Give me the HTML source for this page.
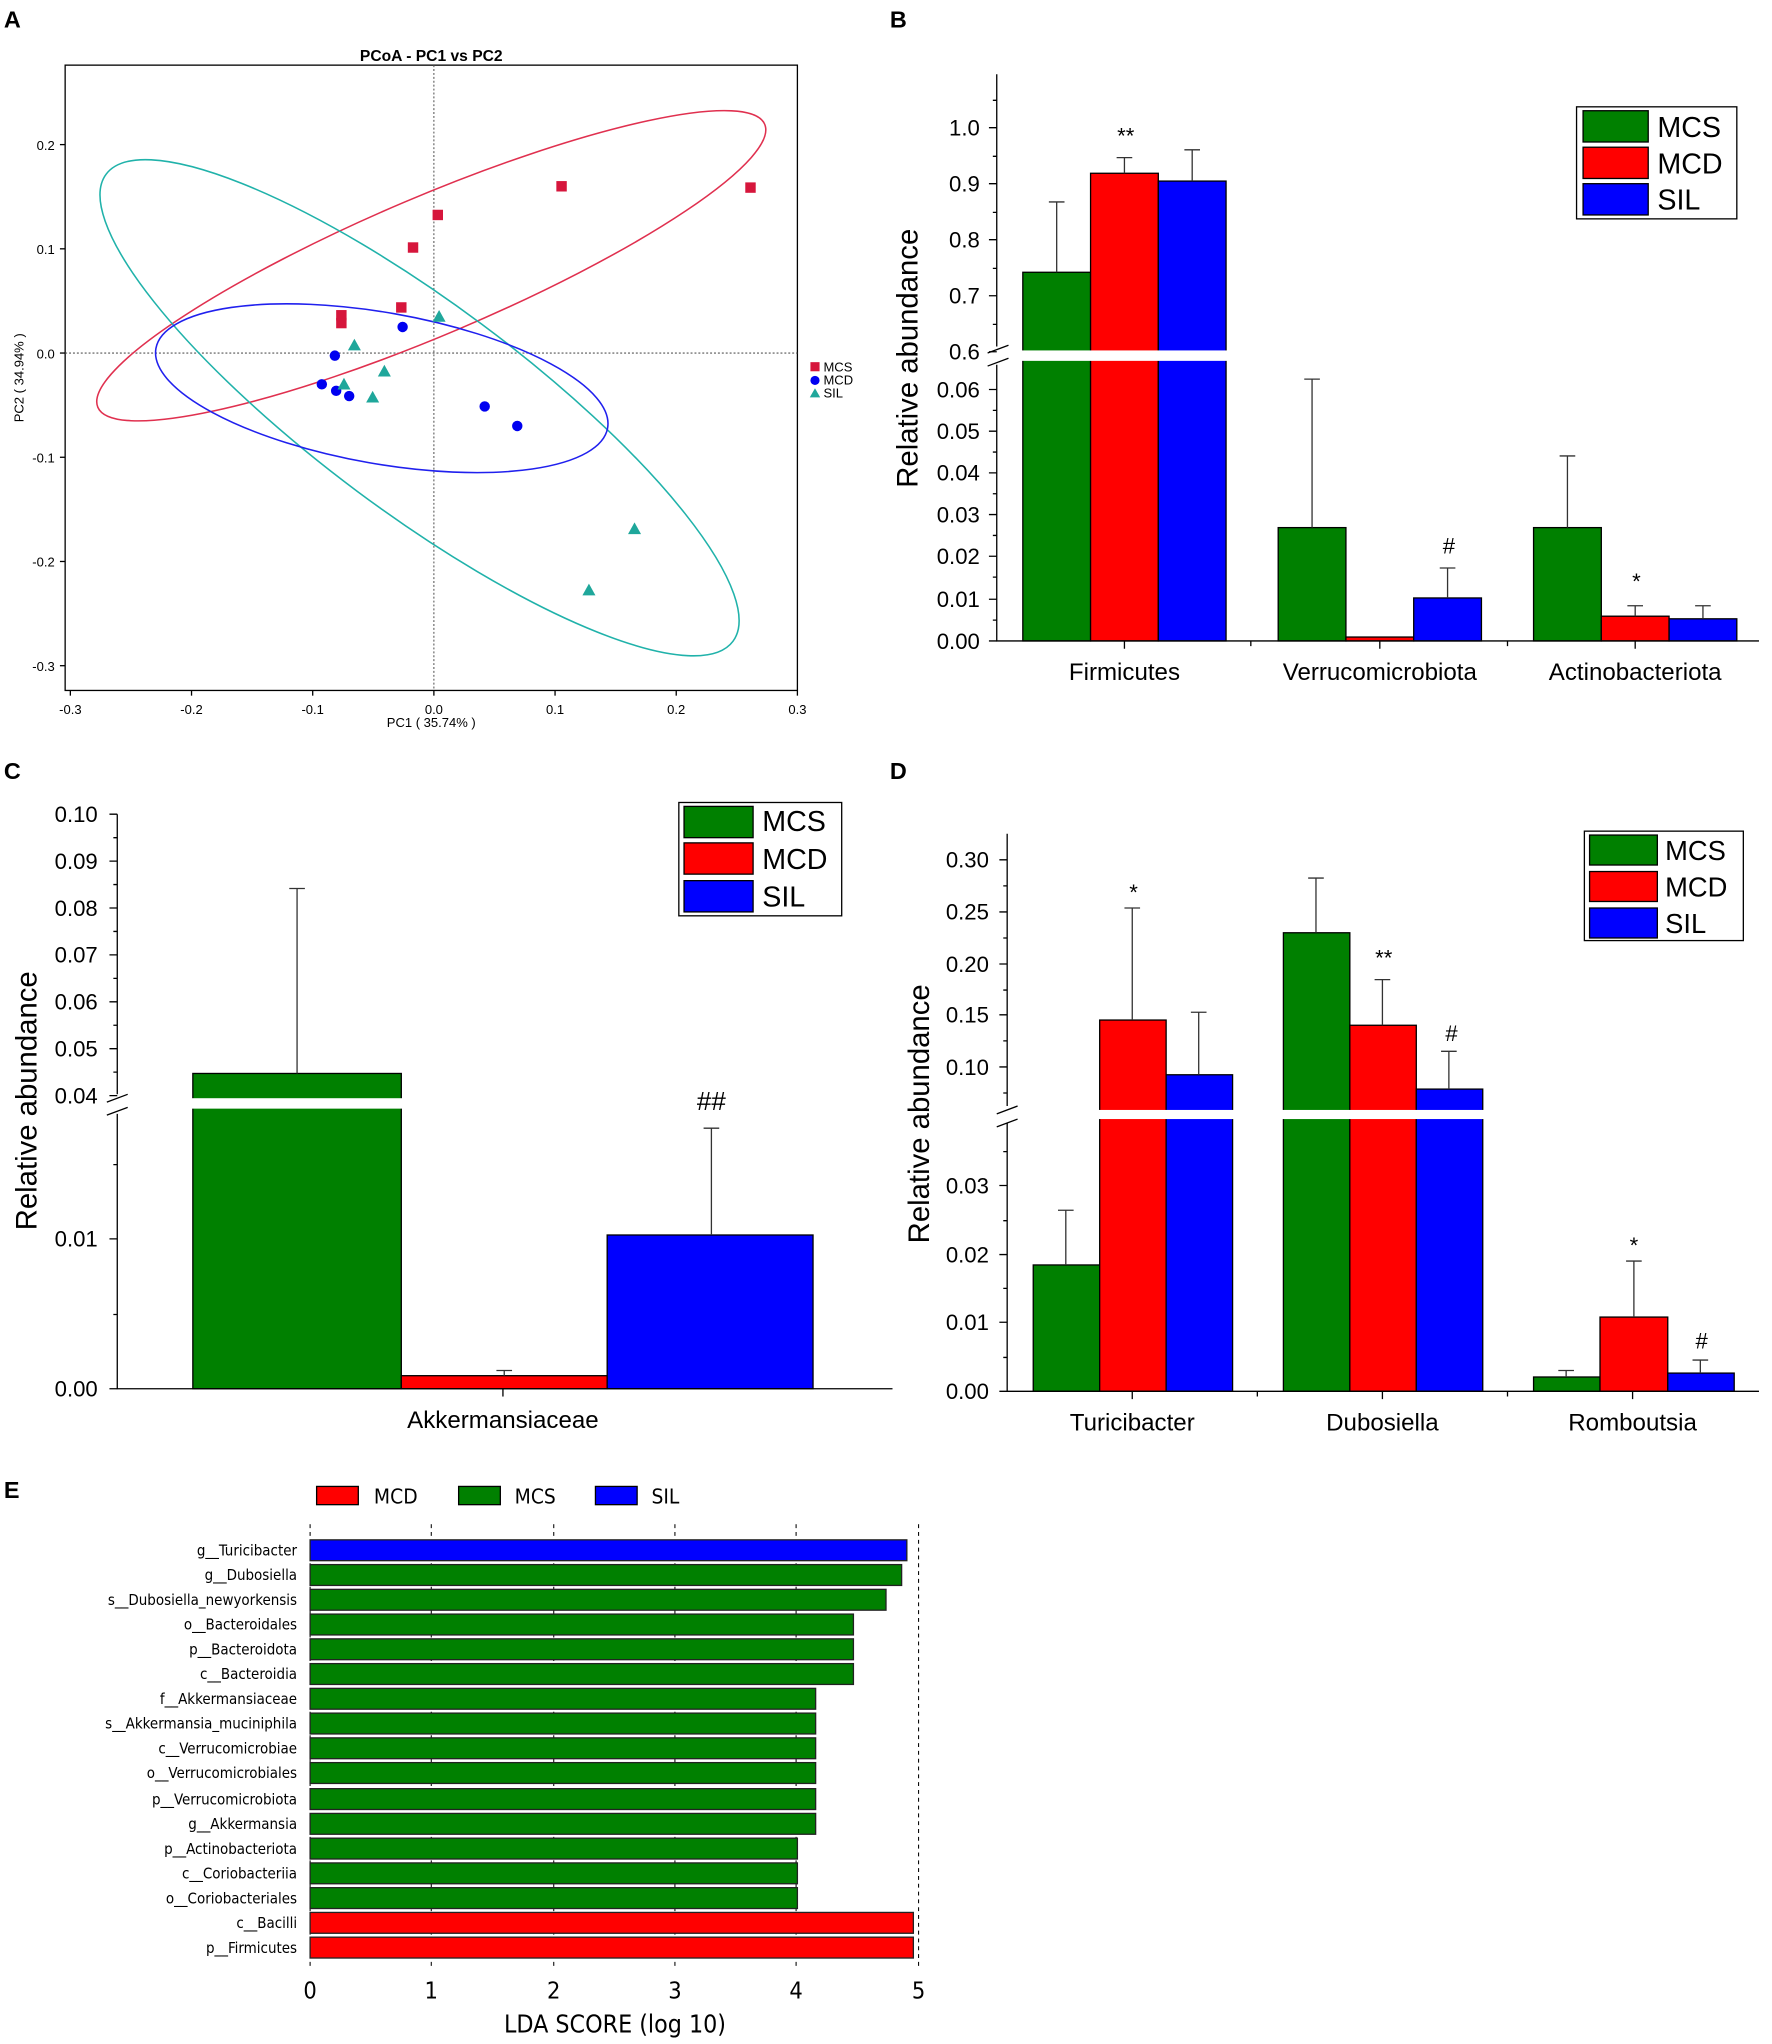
<!DOCTYPE html>
<html><head><meta charset="utf-8"><style>
html,body{margin:0;padding:0;background:#fff}
svg{display:block}
text{font-family:"Liberation Sans",Arial,sans-serif;fill:#000}
.c{font-family:"DejaVu Sans Condensed","DejaVu Sans",sans-serif}
</style></head><body>
<svg width="1772" height="2044" viewBox="0 0 1360 1569" preserveAspectRatio="none" xmlns="http://www.w3.org/2000/svg">
<rect width="1360" height="1569" fill="#fff"/>
<g font-weight="bold" font-size="18">
<text x="3" y="21">A</text><text x="683" y="21">B</text><text x="3" y="598">C</text><text x="683" y="598">D</text><text x="3" y="1150">E</text></g>

<!-- Panel A -->
<g>
<text x="331" y="47" font-size="12" font-weight="bold" text-anchor="middle">PCoA - PC1 vs PC2</text>
<rect x="50" y="50" width="562" height="480" fill="none" stroke="#000" stroke-width="1"/>
<line x1="333" y1="50" x2="333" y2="530" stroke="#555" stroke-dasharray="1.5,1.5" stroke-width="0.8"/>
<line x1="50" y1="271" x2="612" y2="271" stroke="#555" stroke-dasharray="1.5,1.5" stroke-width="0.8"/>
<g font-size="10" text-anchor="middle">
<text x="54" y="548">-0.3</text><text x="147" y="548">-0.2</text><text x="240" y="548">-0.1</text><text x="333" y="548">0.0</text><text x="426" y="548">0.1</text><text x="519" y="548">0.2</text><text x="612" y="548">0.3</text>
</g>
<g stroke="#000"><line x1="54" y1="530" x2="54" y2="534"/><line x1="147" y1="530" x2="147" y2="534"/><line x1="240" y1="530" x2="240" y2="534"/><line x1="333" y1="530" x2="333" y2="534"/><line x1="426" y1="530" x2="426" y2="534"/><line x1="519" y1="530" x2="519" y2="534"/><line x1="612" y1="530" x2="612" y2="534"/>
<line x1="46" y1="111" x2="50" y2="111"/><line x1="46" y1="191" x2="50" y2="191"/><line x1="46" y1="271" x2="50" y2="271"/><line x1="46" y1="351" x2="50" y2="351"/><line x1="46" y1="431" x2="50" y2="431"/><line x1="46" y1="511" x2="50" y2="511"/></g>
<g font-size="10" text-anchor="end">
<text x="42" y="115">0.2</text><text x="42" y="195">0.1</text><text x="42" y="275">0.0</text><text x="42" y="355">-0.1</text><text x="42" y="435">-0.2</text><text x="42" y="515">-0.3</text></g>
<text x="331" y="558" font-size="10" text-anchor="middle">PC1 ( 35.74% )</text>
<text transform="translate(18,290) rotate(-90)" font-size="10" text-anchor="middle">PC2 ( 34.94% )</text>
<ellipse cx="331" cy="204" rx="278" ry="53" transform="rotate(-23 331 204)" fill="none" stroke="#e0304f" stroke-width="1.2"/>
<ellipse cx="322" cy="313" rx="300" ry="80" transform="rotate(36.7 322 313)" fill="none" stroke="#20b2aa" stroke-width="1.2"/>
<ellipse cx="293" cy="298" rx="176" ry="58" transform="rotate(10 293 298)" fill="none" stroke="#2020ee" stroke-width="1.2"/>
<g fill="#d6163c">
<rect x="427" y="139" width="8" height="8"/><rect x="572" y="140" width="8" height="8"/><rect x="332" y="161" width="8" height="8"/><rect x="313" y="186" width="8" height="8"/><rect x="304" y="232" width="8" height="8"/><rect x="258" y="238" width="8" height="8"/><rect x="258" y="244" width="8" height="8"/></g>
<g fill="#0000f0">
<circle cx="309" cy="251" r="4"/><circle cx="257" cy="273" r="4"/><circle cx="247" cy="295" r="4"/><circle cx="258" cy="300" r="4"/><circle cx="268" cy="304" r="4"/><circle cx="372" cy="312" r="4"/><circle cx="397" cy="327" r="4"/></g>
<g fill="#1fa79b">
<polygon points="337,238 332,247 342,247"/><polygon points="272,260 267,269 277,269"/><polygon points="295,280 290,289 300,289"/><polygon points="264,290 259,299 269,299"/><polygon points="286,300 281,309 291,309"/><polygon points="487,401 482,410 492,410"/><polygon points="452,448 447,457 457,457"/></g>
<rect x="622" y="278" width="7" height="7" fill="#d6163c"/><circle cx="625.5" cy="292" r="3.5" fill="#0000f0"/><polygon points="625.5,298 621.5,305 629.5,305" fill="#1fa79b"/>
<g font-size="10"><text x="632" y="285">MCS</text><text x="632" y="295">MCD</text><text x="632" y="305">SIL</text></g>
</g>

<!-- Panel B -->
<g>
<g stroke="#000" stroke-width="1">
<rect x="785" y="209" width="52" height="283" fill="#008000"/>
<rect x="837" y="133" width="52" height="359" fill="#ff0000"/>
<rect x="889" y="139" width="52" height="353" fill="#0000ff"/>
<rect x="981" y="405" width="52" height="87" fill="#008000"/>
<rect x="1033" y="489" width="52" height="3" fill="#ff0000"/>
<rect x="1085" y="459" width="52" height="33" fill="#0000ff"/>
<rect x="1177" y="405" width="52" height="87" fill="#008000"/>
<rect x="1229" y="473" width="52" height="19" fill="#ff0000"/>
<rect x="1281" y="475" width="52" height="17" fill="#0000ff"/>
<path d="M811 209V155M805 155H817M863 133V121M857 121H869M915 139V115M909 115H921M1007 405V291M1001 291H1013M1111 459V436M1105 436H1117M1203 405V350M1197 350H1209M1255 473V465M1249 465H1261M1307 475V465M1301 465H1313" fill="none" stroke="#333"/>
</g>
<rect x="780" y="269" width="165" height="8" fill="#fff"/>
<g stroke="#000" fill="none">
<path d="M765 57V266M765 280V492H1350"/>
<path d="M758 271L774 265M758 281L774 275"/>
<path d="M759 98H765M759 141H765M759 184H765M759 227H765M759 270H765M762 77H765M762 120H765M762 163H765M762 206H765M762 249H765M759 299H765M759 331H765M759 363H765M759 395H765M759 427H765M759 460H765M759 492H765M762 315H765M762 347H765M762 379H765M762 411H765M762 443H765M762 476H765"/>
<path d="M863 492V498M960 492V496M1059 492V498M1157 492V496M1255 492V498"/>
</g>
<g font-size="17" text-anchor="end">
<text x="752" y="104">1.0</text><text x="752" y="147">0.9</text><text x="752" y="190">0.8</text><text x="752" y="233">0.7</text><text x="752" y="276">0.6</text>
<text x="752" y="305">0.06</text><text x="752" y="337">0.05</text><text x="752" y="369">0.04</text><text x="752" y="401">0.03</text><text x="752" y="433">0.02</text><text x="752" y="466">0.01</text><text x="752" y="498">0.00</text></g>
<g font-size="18.5" text-anchor="middle"><text x="863" y="522">Firmicutes</text><text x="1059" y="522">Verrucomicrobiota</text><text x="1255" y="522">Actinobacteriota</text></g>
<text transform="translate(704,275) rotate(-90)" font-size="22.5" text-anchor="middle">Relative abundance</text>
<g font-size="17" text-anchor="middle"><text x="864" y="110">**</text><text x="1112" y="425">#</text><text x="1256" y="452">*</text></g>
<rect x="1210" y="82" width="123" height="86" fill="#fff" stroke="#000"/>
<rect x="1215" y="85" width="50" height="24" fill="#008000" stroke="#000"/><rect x="1215" y="113" width="50" height="24" fill="#ff0000" stroke="#000"/><rect x="1215" y="141" width="50" height="24" fill="#0000ff" stroke="#000"/>
<g font-size="22"><text x="1272" y="105">MCS</text><text x="1272" y="133">MCD</text><text x="1272" y="161">SIL</text></g>
</g>

<!-- Panel C -->
<g>
<g stroke="#000">
<rect x="148" y="824" width="160" height="242" fill="#008000"/>
<rect x="308" y="1056" width="158" height="10" fill="#ff0000"/>
<rect x="466" y="948" width="158" height="118" fill="#0000ff"/>
<path d="M228 824V682M222 682H234M387 1056V1052M381 1052H393M546 948V866M540 866H552" stroke="#333" fill="none"/>
</g>
<rect x="140" y="843" width="175" height="8" fill="#fff"/>
<g stroke="#000" fill="none">
<path d="M90 625V840M90 855V1066H685"/>
<path d="M82 846L98 840M82 856L98 850"/>
<path d="M84 625H90M84 661H90M84 697H90M84 733H90M84 769H90M84 805H90M84 841H90M87 643H90M87 679H90M87 715H90M87 751H90M87 787H90M87 823H90M84 951H90M84 1066H90M87 894H90M87 1009H90"/>
<path d="M386 1066V1072"/>
</g>
<g font-size="17" text-anchor="end">
<text x="75" y="631">0.10</text><text x="75" y="667">0.09</text><text x="75" y="703">0.08</text><text x="75" y="739">0.07</text><text x="75" y="775">0.06</text><text x="75" y="811">0.05</text><text x="75" y="847">0.04</text><text x="75" y="957">0.01</text><text x="75" y="1072">0.00</text></g>
<text x="386" y="1096" font-size="18.5" text-anchor="middle">Akkermansiaceae</text>
<text transform="translate(28,845) rotate(-90)" font-size="22.5" text-anchor="middle">Relative abundance</text>
<text x="546" y="852" font-size="20" text-anchor="middle">##</text>
<rect x="521" y="616" width="125" height="87" fill="#fff" stroke="#000"/>
<rect x="525" y="619" width="53" height="24" fill="#008000" stroke="#000"/><rect x="525" y="647" width="53" height="24" fill="#ff0000" stroke="#000"/><rect x="525" y="676" width="53" height="24" fill="#0000ff" stroke="#000"/>
<g font-size="22"><text x="585" y="638">MCS</text><text x="585" y="667">MCD</text><text x="585" y="696">SIL</text></g>
</g>

<!-- Panel D -->
<g>
<g stroke="#000">
<rect x="793" y="971" width="51" height="97" fill="#008000"/>
<rect x="844" y="783" width="51" height="285" fill="#ff0000"/>
<rect x="895" y="825" width="51" height="243" fill="#0000ff"/>
<rect x="985" y="716" width="51" height="352" fill="#008000"/>
<rect x="1036" y="787" width="51" height="281" fill="#ff0000"/>
<rect x="1087" y="836" width="51" height="232" fill="#0000ff"/>
<rect x="1177" y="1057" width="51" height="11" fill="#008000"/>
<rect x="1228" y="1011" width="52" height="57" fill="#ff0000"/>
<rect x="1280" y="1054" width="51" height="14" fill="#0000ff"/>
<path d="M818 971V929M812 929H824M869 783V697M863 697H875M920 825V777M914 777H926M1010 716V674M1004 674H1016M1061 787V752M1055 752H1067M1112 836V807M1106 807H1118M1202 1057V1052M1196 1052H1208M1254 1011V968M1248 968H1260M1305 1054V1044M1299 1044H1311" stroke="#333" fill="none"/>
</g>
<rect x="785" y="852" width="360" height="7" fill="#fff"/>
<g stroke="#000" fill="none">
<path d="M773 640V849M773 862V1068H1350"/>
<path d="M765 855L781 849M765 865L781 859"/>
<path d="M767 660H773M767 700H773M767 740H773M767 779H773M767 819H773M770 680H773M770 720H773M770 760H773M770 799H773M770 839H773M767 910H773M767 963H773M767 1015H773M767 1068H773M770 884H773M770 937H773M770 989H773M770 1042H773"/>
<path d="M869 1068V1074M965 1068V1072M1061 1068V1074M1157 1068V1072M1253 1068V1074"/>
</g>
<g font-size="17" text-anchor="end">
<text x="759" y="666">0.30</text><text x="759" y="706">0.25</text><text x="759" y="746">0.20</text><text x="759" y="785">0.15</text><text x="759" y="825">0.10</text>
<text x="759" y="916">0.03</text><text x="759" y="969">0.02</text><text x="759" y="1021">0.01</text><text x="759" y="1074">0.00</text></g>
<g font-size="18.5" text-anchor="middle"><text x="869" y="1098">Turicibacter</text><text x="1061" y="1098">Dubosiella</text><text x="1253" y="1098">Romboutsia</text></g>
<text transform="translate(713,855) rotate(-90)" font-size="22.5" text-anchor="middle">Relative abundance</text>
<g font-size="17" text-anchor="middle"><text x="870" y="691">*</text><text x="1062" y="741">**</text><text x="1114" y="799">#</text><text x="1254" y="962">*</text><text x="1306" y="1035">#</text></g>
<rect x="1216" y="638" width="122" height="84" fill="#fff" stroke="#000"/>
<rect x="1220" y="641" width="52" height="23" fill="#008000" stroke="#000"/><rect x="1220" y="669" width="52" height="23" fill="#ff0000" stroke="#000"/><rect x="1220" y="697" width="52" height="23" fill="#0000ff" stroke="#000"/>
<g font-size="21"><text x="1278" y="660">MCS</text><text x="1278" y="688">MCD</text><text x="1278" y="716">SIL</text></g>
</g>

<!-- Panel E -->
<g>
<rect x="243" y="1141" width="32" height="14" fill="#ff0000" stroke="#000"/><rect x="352" y="1141" width="32" height="14" fill="#008000" stroke="#000"/><rect x="457" y="1141" width="32" height="14" fill="#0000ff" stroke="#000"/>
<g class="c" font-size="16"><text class="c" x="287" y="1154">MCD</text><text class="c" x="395" y="1154">MCS</text><text class="c" x="500" y="1154">SIL</text></g>
<g stroke="#000" stroke-dasharray="3,3" stroke-width="0.8">
<line x1="238" y1="1170" x2="238" y2="1512"/><line x1="331" y1="1170" x2="331" y2="1512"/><line x1="425" y1="1170" x2="425" y2="1512"/><line x1="518" y1="1170" x2="518" y2="1512"/><line x1="611" y1="1170" x2="611" y2="1512"/><line x1="705" y1="1170" x2="705" y2="1512"/></g>
<g stroke="#222" stroke-width="1">
<rect x="238" y="1182" width="458" height="16" fill="#0000ff"/>
<rect x="238" y="1201" width="454" height="16" fill="#008000"/>
<rect x="238" y="1220" width="442" height="16" fill="#008000"/>
<rect x="238" y="1239" width="417" height="16" fill="#008000"/>
<rect x="238" y="1258" width="417" height="16" fill="#008000"/>
<rect x="238" y="1277" width="417" height="16" fill="#008000"/>
<rect x="238" y="1296" width="388" height="16" fill="#008000"/>
<rect x="238" y="1315" width="388" height="16" fill="#008000"/>
<rect x="238" y="1334" width="388" height="16" fill="#008000"/>
<rect x="238" y="1353" width="388" height="16" fill="#008000"/>
<rect x="238" y="1373" width="388" height="16" fill="#008000"/>
<rect x="238" y="1392" width="388" height="16" fill="#008000"/>
<rect x="238" y="1411" width="374" height="16" fill="#008000"/>
<rect x="238" y="1430" width="374" height="16" fill="#008000"/>
<rect x="238" y="1449" width="374" height="16" fill="#008000"/>
<rect x="238" y="1468" width="463" height="16" fill="#ff0000"/>
<rect x="238" y="1487" width="463" height="16" fill="#ff0000"/>
</g>
<g class="c" font-size="11.5" text-anchor="end">
<text class="c" x="228" y="1194">g__Turicibacter</text><text class="c" x="228" y="1213">g__Dubosiella</text><text class="c" x="228" y="1232">s__Dubosiella_newyorkensis</text><text class="c" x="228" y="1251">o__Bacteroidales</text><text class="c" x="228" y="1270">p__Bacteroidota</text><text class="c" x="228" y="1289">c__Bacteroidia</text><text class="c" x="228" y="1308">f__Akkermansiaceae</text><text class="c" x="228" y="1327">s__Akkermansia_muciniphila</text><text class="c" x="228" y="1346">c__Verrucomicrobiae</text><text class="c" x="228" y="1365">o__Verrucomicrobiales</text><text class="c" x="228" y="1385">p__Verrucomicrobiota</text><text class="c" x="228" y="1404">g__Akkermansia</text><text class="c" x="228" y="1423">p__Actinobacteriota</text><text class="c" x="228" y="1442">c__Coriobacteriia</text><text class="c" x="228" y="1461">o__Coriobacteriales</text><text class="c" x="228" y="1480">c__Bacilli</text><text class="c" x="228" y="1499">p__Firmicutes</text></g>
<g class="c" font-size="18" text-anchor="middle"><text class="c" x="238" y="1534">0</text><text class="c" x="331" y="1534">1</text><text class="c" x="425" y="1534">2</text><text class="c" x="518" y="1534">3</text><text class="c" x="611" y="1534">4</text><text class="c" x="705" y="1534">5</text></g>
<text class="c" x="472" y="1560" font-size="19" text-anchor="middle">LDA SCORE (log 10)</text>
</g>
</svg>
</body></html>
